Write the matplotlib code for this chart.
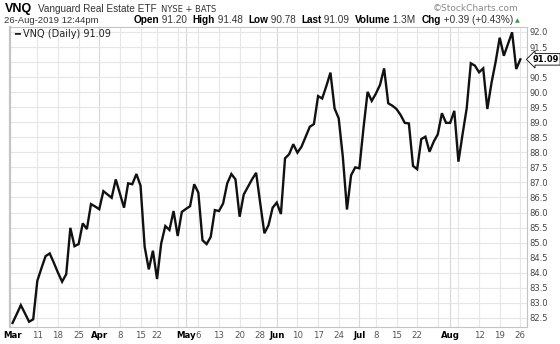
import numpy as np
import pandas as pd
import matplotlib
matplotlib.use('Agg')
import matplotlib.pyplot as plt

# VNQ daily closes, 1-Mar-2019 .. 26-Aug-2019
closes = [
    82.33, 82.62, 82.92, 82.65, 82.37, 82.45, 83.73, 84.15, 84.55, 84.64,
    84.33, 84.00, 83.70, 83.95, 85.49, 84.88, 84.95, 85.64, 85.45, 86.28,
    86.20, 86.11, 86.71, 86.60, 86.49, 87.10, 86.63, 86.16, 86.97, 86.94,
    87.28, 86.89, 84.86, 84.11, 84.73, 83.79, 84.97, 85.55, 85.42, 86.05,
    85.22, 86.02, 86.12, 86.21, 86.94, 86.66, 85.08, 84.95, 85.19, 86.08,
    86.05, 86.30, 86.97, 87.28, 87.10, 85.86, 86.60, 86.85, 87.10, 87.32,
    86.30, 85.31, 85.58, 86.16, 86.33, 85.95, 87.80, 87.94, 88.27, 87.99,
    88.19, 88.52, 88.85, 88.94, 89.87, 89.79, 90.20, 90.65, 89.46, 89.13,
    87.85, 86.10, 87.24, 87.50, 87.47, 88.80, 90.01, 89.71, 89.95, 90.24,
    90.79, 89.63, 89.55, 89.44, 89.24, 88.98, 88.96, 87.55, 87.44, 88.44,
    88.52, 88.02, 88.35, 88.60, 89.30, 88.98, 88.98, 89.38, 87.69, 88.60,
    89.46, 90.96, 90.88, 90.66, 90.79, 89.44, 90.30, 91.00, 91.81, 91.21,
    91.60, 91.99, 90.77, 91.09,
]
holidays = ['2019-04-19', '2019-05-27', '2019-07-04']
days = pd.bdate_range('2019-03-01', '2019-08-26')
days = days[~days.isin(pd.to_datetime(holidays))]

tick_dates = ['2019-03-01', '2019-03-11', '2019-03-18', '2019-03-25',
              '2019-04-01', '2019-04-08', '2019-04-15', '2019-04-22',
              '2019-05-01', '2019-05-06', '2019-05-13', '2019-05-20', '2019-05-28',
              '2019-06-03', '2019-06-10', '2019-06-17', '2019-06-24',
              '2019-07-01', '2019-07-08', '2019-07-15', '2019-07-22',
              '2019-08-01', '2019-08-12', '2019-08-19', '2019-08-26']
tick_labels = ['Mar', '11', '18', '25', 'Apr', '8', '15', '22',
               'May', '6', '13', '20', '28', 'Jun', '10', '17', '24',
               'Jul', '8', '15', '22', 'Aug', '12', '19', '26']
grid_dates = tick_dates[1:] + ['2019-04-29', '2019-07-29', '2019-08-05']
month_dates = ['2019-04-01', '2019-05-01', '2019-06-03', '2019-07-01', '2019-08-01']

y_ticks = np.arange(82.5, 92.01, 0.5)
last = closes[-1]

pos = {d: i for i, d in enumerate(days.strftime('%Y-%m-%d'))}
x = np.arange(len(closes))

fig = plt.figure(figsize=(5.6, 3.44), dpi=100)
ax = fig.add_axes([0.018, 0.049, 0.923, 0.872])

for d in grid_dates:
    c = '#d8d8d8' if d in month_dates else '#e6e6e6'
    ax.axvline(pos[d], color=c, lw=0.8, zorder=0)
for v in y_ticks:
    ax.axhline(v, color='#e6e6e6', lw=0.8, zorder=0)

ax.plot(x, closes, color='#111111', lw=1.7, solid_joinstyle='miter', zorder=3)

ax.set_xlim(-0.6, 124.6)
ax.set_ylim(82.19, 92.16)
for s in ax.spines.values():
    s.set_color('#c4c4c4')
    s.set_linewidth(0.8)
ax.spines['left'].set_linewidth(1.6)

ax.yaxis.tick_right()
ax.set_yticks(y_ticks)
ax.set_yticklabels(['' if abs(v - 91.0) < 1e-6 else f'{v:.1f}' for v in y_ticks])
ax.tick_params(axis='y', length=0, pad=2, labelsize=6, labelcolor='#444444')

ax.set_xticks([pos[d] for d in tick_dates])
ax.set_xticklabels(tick_labels)
ax.tick_params(axis='x', length=0, pad=3, labelsize=6.2, labelcolor='#555555')
for lab in ax.get_xticklabels():
    if not lab.get_text().isdigit():
        lab.set_fontweight('bold')
        lab.set_color('black')

# last price tag
ax.annotate(f'{last:.2f}', xy=(1.0, last), xycoords=('axes fraction', 'data'),
            xytext=(4, 0), textcoords='offset points', va='center', ha='left',
            fontsize=6, fontweight='bold',
            bbox=dict(boxstyle='larrow,pad=0.15', fc='white', ec='black', lw=0.6))

# legend
ax.text(0.008, 0.993, '\u2501 VNQ (Daily) 91.09', transform=ax.transAxes,
        ha='left', va='top', fontsize=7, family='DejaVu Sans', color='#222222')

# header
hf = 'Liberation Sans'
fig.text(0.008, 0.966, 'VNQ', fontsize=9, fontweight='bold', family=hf)
fig.text(0.068, 0.966, 'Vanguard Real Estate ETF', fontsize=7.2, family=hf, color='#333333')
fig.text(0.288, 0.966, 'NYSE + BATS', fontsize=6, family='DejaVu Sans', color='#333333')
fig.text(0.008, 0.933, '26-Aug-2019 12:44pm', fontsize=6.8, family=hf, color='#333333')
fig.text(0.925, 0.968, '\u00a9StockCharts.com', fontsize=6.5, family='DejaVu Sans',
         color='#888888', ha='right')

pieces = [('Open', True), (' 91.20  ', False), ('High', True), (' 91.48  ', False),
          ('Low', True), (' 90.78  ', False), ('Last', True), (' 91.09  ', False),
          ('Volume', True), (' 1.3M  ', False), ('Chg', True), (' +0.39 (+0.43%)', False)]
r = fig.canvas.get_renderer()
px = 0.238 * fig.bbox.width
for txt, bold in pieces:
    t = fig.text(px / fig.bbox.width, 0.933, txt, fontsize=7.2, family=hf,
                 fontweight='bold' if bold else 'normal',
                 color='black' if bold else '#333333')
    px = t.get_window_extent(r).x1
fig.text(px / fig.bbox.width + 0.004, 0.935, '\u25b2', fontsize=4.5,
         color='#2e9e3e', family='DejaVu Sans')

fig.savefig('out.png', dpi=100)
